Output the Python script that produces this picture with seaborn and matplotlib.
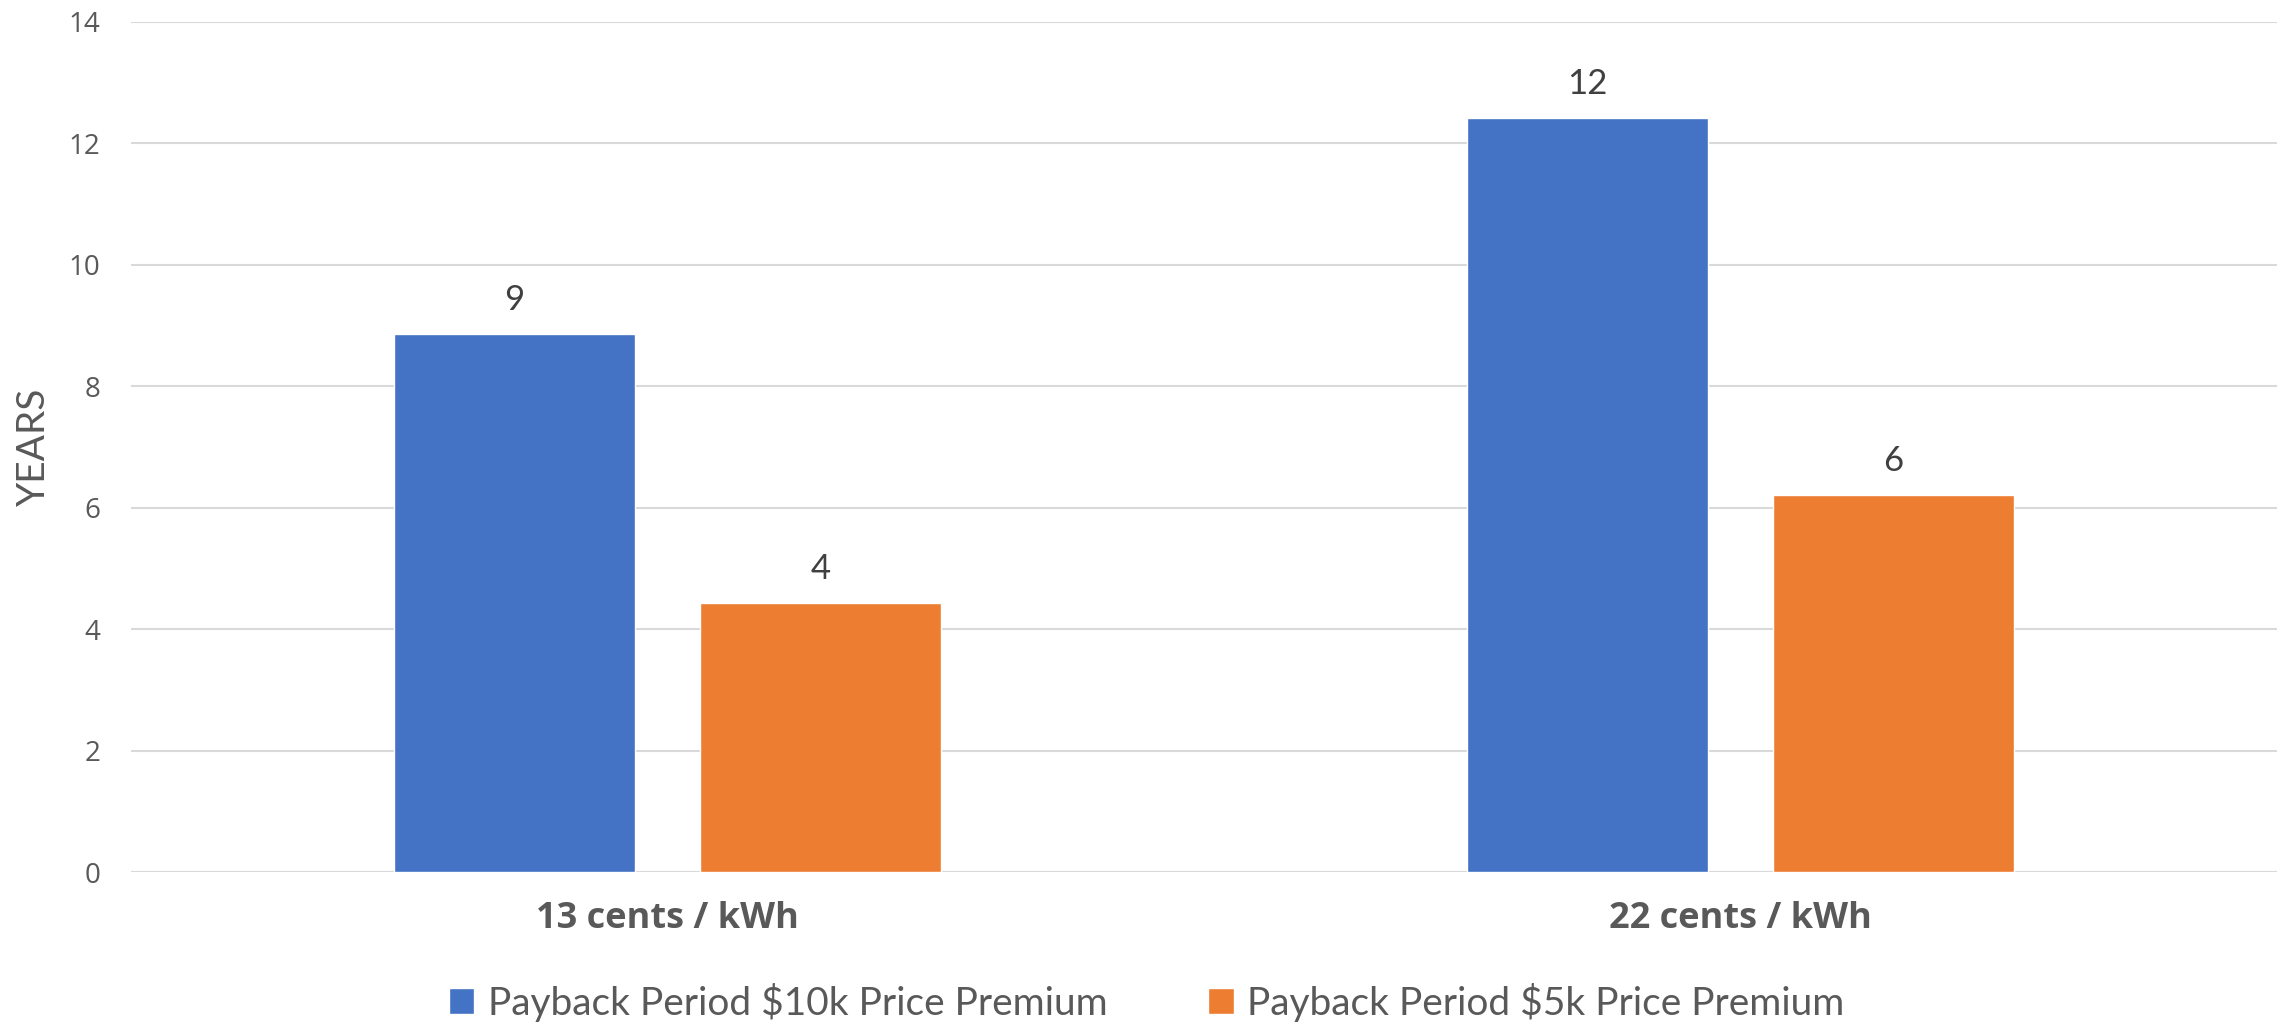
import pandas as pd
import matplotlib.pyplot as plt
import seaborn as sns

# values
rates = ['13 cents / kWh', '22 cents / kWh']
series = ['Payback Period $10k Price Premium', 'Payback Period $5k Price Premium']
payback_10k = [8.86, 12.41]
payback_5k = [4.43, 6.21]
shown_10k = ['9', '12']
shown_5k = ['4', '6']
year_ticks = [0, 2, 4, 6, 8, 10, 12, 14]
colors = ['#4472C4', '#ED7D31']

df = pd.DataFrame({
    'rate': rates * 2,
    'series': [series[0]] * 2 + [series[1]] * 2,
    'years': payback_10k + payback_5k,
})

sns.set_theme(style='white')
plt.rcParams['font.family'] = ['Lato', 'DejaVu Sans']

fig = plt.figure(figsize=(22.93, 10.24), dpi=100)
ax = fig.add_axes([0.0571, 0.1484, 0.9359, 0.8306])

sns.barplot(data=df, x='rate', y='years', hue='series', palette=colors,
            saturation=1, width=0.57, gap=0.214, ax=ax, legend=True)

for container, labels in zip(ax.containers, [shown_10k, shown_5k]):
    ax.bar_label(container, labels=labels, padding=13, fontsize=25, color='#404040')

ax.set_ylim(0, 14)
ax.set_yticks(year_ticks, labels=[str(t) for t in year_ticks],
              fontsize=20, family='Open Sans', color='#595959')
ax.set_xticks(range(len(rates)), labels=rates, fontsize=26, family='Open Sans',
              fontweight='bold', color='#595959')
ax.yaxis.grid(True, color='#D9D9D9', linewidth=1.5)
ax.set_axisbelow(True)
for side in ['top', 'right', 'left', 'bottom']:
    ax.spines[side].set_visible(False)
ax.axhline(0, color='#D9D9D9', linewidth=1.5, zorder=0)

ax.tick_params(axis='y', length=0, pad=22)
ax.tick_params(axis='x', length=0, pad=21)

ax.set_xlabel('')
ax.set_ylabel('YEARS', fontsize=28, color='#595959')
ax.yaxis.set_label_coords(-0.037, 0.5)

handles, labels = ax.get_legend_handles_labels()
ax.legend_.remove()
fig.legend(handles, labels, loc='center', bbox_to_anchor=(0.5, 0.021), ncol=2,
           frameon=False, fontsize=28, labelcolor='#595959',
           handlelength=0.65, handleheight=0.65, handletextpad=0.35, columnspacing=2.6)

fig.savefig('out.png', dpi=100)
